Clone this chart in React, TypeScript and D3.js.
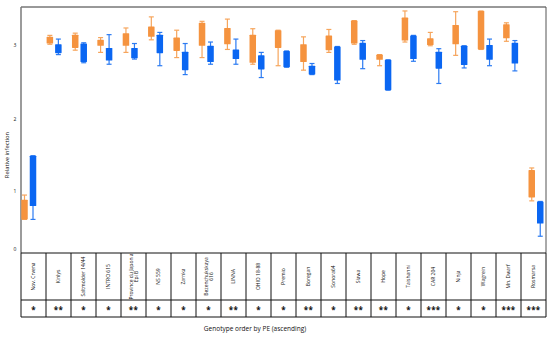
import React from 'react';
import * as d3 from 'd3';

// genotypes, ordered by PE (ascending)
const genotypes = [
  'Nov. Crvena', 'Kinlys', 'Saltmolder 14/44', 'INTRO 615', 'Province du Japon a|Epi B',
  'NS 559', 'Zarnka', 'Bezenchukskaya|616', 'LINNA', 'OHIO 18-88', 'Premio', 'Boregan',
  'Sonora64', 'Sława', 'Hope', 'Taishanni', 'CAR 204', 'Ninja', 'Wagrein', 'Mn. Dwarf', 'Rosmarsa',
];

const significance = [
  '*', '**', '*', '*', '**', '*', '*', '*', '**', '*', '*', '**',
  '*', '**', '**', '*', '***', '*', '*', '***', '***',
];

// [whisker low, q1, q3, whisker high]
const orangeStats = [
  [0.51, 0.51, 0.85, 0.93], [3.01, 3.02, 3.11, 3.13], [2.93, 2.96, 3.14, 3.16],
  [2.9, 2.99, 3.07, 3.1], [2.9, 2.99, 3.16, 3.23], [3.07, 3.11, 3.25, 3.38],
  [2.83, 2.92, 3.1, 3.2], [2.83, 2.99, 3.3, 3.32], [2.94, 3.01, 3.23, 3.35],
  [2.74, 2.76, 3.14, 3.22], [2.72, 2.96, 3.2, 3.2], [2.66, 2.77, 3.01, 3.11],
  [2.9, 2.93, 3.13, 3.21], [3.01, 3.02, 3.33, 3.33], [2.72, 2.8, 2.87, 2.87],
  [3.04, 3.06, 3.37, 3.46], [2.99, 3.0, 3.09, 3.17], [2.86, 3.01, 3.27, 3.45],
  [2.94, 2.94, 3.46, 3.46], [3.05, 3.09, 3.28, 3.3], [0.83, 0.89, 1.29, 1.32],
];

const blueStats = [
  [0.51, 0.74, 1.49, 1.49], [2.87, 2.89, 3.01, 3.08], [2.76, 2.77, 3.02, 3.03],
  [2.74, 2.79, 2.96, 3.14], [2.81, 2.82, 2.96, 3.02], [2.72, 2.89, 3.14, 3.17],
  [2.6, 2.66, 2.91, 3.02], [2.74, 2.77, 2.99, 3.04], [2.74, 2.81, 2.94, 3.08],
  [2.56, 2.67, 2.86, 2.9], [2.7, 2.7, 2.92, 2.92], [2.6, 2.6, 2.72, 2.75],
  [2.48, 2.52, 2.98, 2.98], [2.68, 2.8, 3.03, 3.06], [2.39, 2.39, 2.8, 2.8],
  [2.78, 2.81, 3.13, 3.13], [2.48, 2.68, 2.91, 2.95], [2.69, 2.73, 2.99, 2.99],
  [2.72, 2.8, 3.0, 3.08], [2.65, 2.75, 3.03, 3.06], [0.22, 0.44, 0.82, 0.82],
];

const yTicks = [0, 1, 2, 3];

const W = 550;
const H = 337;
const left = 21;
const right = 546;
const top = 7;
const tableTop = 253;
const tableMid = 300;
const tableBottom = 317;
const font = "'Open Sans', 'Liberation Sans', sans-serif";

const series = [
  { stats: orangeStats, fill: '#F5933F', line: '#F6A55C', offset: -4.25 },
  { stats: blueStats, fill: '#0A66F2', line: '#2C7BF2', offset: 4.25 },
];

export default function App() {
  // tick labels in the source are not evenly spaced
  const y = d3.scaleLinear().domain([0, 1, 2, 3]).range([249, 191, 119, 45]);
  const x = d3.scalePoint<string>().domain(genotypes).range([28.75, 536]);
  const col = d3.scaleBand<string>().domain(genotypes).range([left, right]);
  const boxW = 6.5;
  const capW = 5;

  return (
    <svg width={W} height={H} style={{ position: 'absolute', left: 0, top: 0, background: '#fff' }}>
      <rect width={W} height={H} fill="#fff" />

      {/* plot frame */}
      <line x1={left} x2={right} y1={top} y2={top} stroke="#333" strokeWidth={1} />
      <line x1={right} x2={right} y1={top} y2={tableTop} stroke="#555" strokeWidth={1} />
      <line x1={left} x2={left} y1={top} y2={tableTop} stroke="#7a7a7a" strokeWidth={1.5} />

      {yTicks.map(t => (
        <text key={t} x={15} y={y(t)} dy="0.35em" textAnchor="middle" fontSize={5} fontFamily={font} fill="#111">
          {t}
        </text>
      ))}
      <text
        transform={`translate(7,155) rotate(-90)`}
        textAnchor="middle"
        fontSize={5.8}
        fontFamily={font}
        fill="#111"
        dy="0.35em"
      >
        Relative infection
      </text>

      {series.map((s, si) => (
        <g key={si}>
          {genotypes.map((g, i) => {
            const [lo, q1, q3, hi] = s.stats[i];
            const cx = (x(g) as number) + s.offset;
            return (
              <g key={g}>
                <line x1={cx} x2={cx} y1={y(hi)} y2={y(lo)} stroke={s.line} strokeWidth={1.2} />
                <line x1={cx - capW / 2} x2={cx + capW / 2} y1={y(hi)} y2={y(hi)} stroke={s.line} strokeWidth={1.2} />
                <line x1={cx - capW / 2} x2={cx + capW / 2} y1={y(lo)} y2={y(lo)} stroke={s.line} strokeWidth={1.2} />
                <rect
                  x={cx - boxW / 2}
                  y={y(q3)}
                  width={boxW}
                  height={Math.max(1, y(q1) - y(q3))}
                  fill={s.fill}
                  rx={0.6}
                />
              </g>
            );
          })}
        </g>
      ))}

      {/* table under the plot */}
      <g stroke="#111" strokeWidth={1}>
        <line x1={left} x2={right} y1={tableTop} y2={tableTop} />
        <line x1={left} x2={right} y1={tableMid} y2={tableMid} />
        <line x1={left} x2={right} y1={tableBottom} y2={tableBottom} />
        {genotypes.map(g => (
          <line key={g} x1={col(g)} x2={col(g)} y1={tableTop} y2={tableBottom} />
        ))}
        <line x1={right} x2={right} y1={tableTop} y2={tableBottom} />
      </g>

      {genotypes.map((g, i) => {
        const cx = (col(g) as number) + col.bandwidth() / 2;
        const lines = g.split('|');
        const cy = (tableTop + tableMid) / 2;
        return (
          <g key={g}>
            <text
              transform={`translate(${cx},${cy}) rotate(-90)`}
              textAnchor="middle"
              fontSize={5}
              fontFamily={font}
              fill="#111"
            >
              {lines.map((l, li) => (
                <tspan key={li} x={0} dy={li === 0 ? `${0.35 - (lines.length - 1) * 0.55}em` : '1.1em'}>
                  {l}
                </tspan>
              ))}
            </text>
            <text
              x={cx}
              y={(tableMid + tableBottom) / 2 + 4.2}
              textAnchor="middle"
              fontSize={8}
              fontWeight="bold"
              fontFamily={font}
              fill="#111"
              letterSpacing={0.3}
            >
              {significance[i]}
            </text>
          </g>
        );
      })}

      <text x={255} y={329} dy="0.35em" textAnchor="middle" fontSize={6.5} fontFamily={font} fill="#111">
        Genotype order by PE (ascending)
      </text>
    </svg>
  );
}
